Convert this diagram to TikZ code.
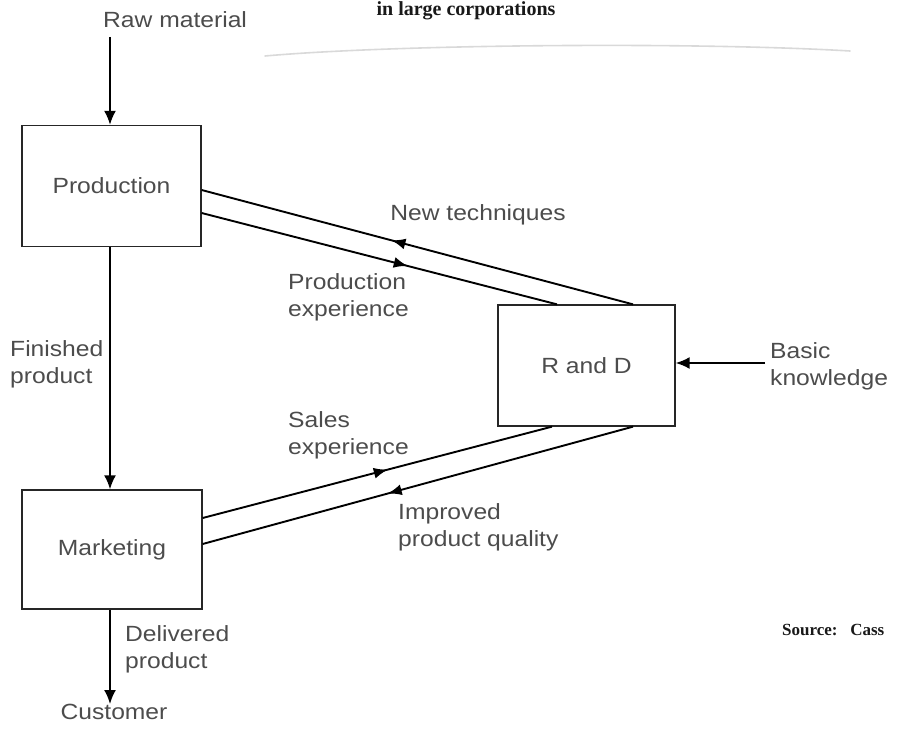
\documentclass[tikz,border=0pt]{standalone}
\usepackage{fontspec}
\setmainfont{Liberation Sans}[FakeStretch=1.12]
\newfontfamily\serifbold{Liberation Serif}[FakeStretch=1.0]
\usetikzlibrary{arrows.meta,decorations.markings}
\tikzset{
  box/.style={draw=black!85, line width=1.3pt, minimum width=179pt, minimum height=121pt, inner sep=0pt, text=black!70, font=\fontsize{22}{27}\selectfont},
  conn/.style={draw=black, line width=1.9pt},
  endtip/.style={-{Latex[length=14pt,width=12pt]}},
  lbl/.style={text=black!70, font=\fontsize{22}{27}\selectfont, inner sep=0pt, align=left},
  midtip/.style={postaction={decorate, decoration={markings, mark=at position #1 with {\arrow{Latex[length=14pt,width=11pt]}}}}},
  srcfont/.style={font=\serifbold\bfseries\fontsize{17}{20}\selectfont, text=black!90, inner sep=0pt},
}
\begin{document}
\begin{tikzpicture}[x=1pt,y=-1pt]
\useasboundingbox (0,0) rectangle (897,733);
% title and scan smudge
\node[srcfont, font=\serifbold\bfseries\fontsize{20}{24}\selectfont, anchor=base] (title) at (466,16) {in large corporations};
\draw[black!15, line width=1.6pt, line cap=round] (265,56) .. controls (400,44) and (700,42) .. (850,51);
% boxes
\node[box] (prod) at (111.5,186) {Production};
\node[box, minimum width=180pt, minimum height=119pt] (mkt) at (112,549.5) {Marketing};
\node[box, minimum width=177pt] (rd) at (586.5,365.5) {R and D};
% free ends
\node[lbl, anchor=base west] (raw) at (103,28) {Raw material};
\coordinate (rawend) at (110,37);
\node[lbl, anchor=west] (basic) at (770,366) {Basic\\knowledge};
\coordinate (basicend) at (765,363);
\node[lbl, anchor=north] (cust) at (114,704) {Customer};
% vertical flows
\draw[conn, endtip] (rawend) -- (prod.north -| rawend);
\draw[conn, endtip] (prod.south -| rawend) -- (mkt.north -| rawend);
\draw[conn, endtip] (mkt.south -| rawend) -- (cust.north -| rawend);
\draw[conn, endtip] (basicend) -- (rd.east |- basicend);
% slanted flows
\draw[conn, midtip=0.56] ([xshift=46.5pt]rd.north) -- ([yshift=-4pt]prod.east);
\draw[conn, midtip=0.58] ([yshift=-27pt]prod.east) -- ([xshift=-29.5pt]rd.north);
\draw[conn, midtip=0.53] ([yshift=31.5pt]mkt.east) -- ([xshift=-34.5pt]rd.south);
\draw[conn, midtip=0.57] ([xshift=46.5pt]rd.south) -- ([yshift=5.5pt]mkt.east);
% labels
\node[lbl] (newtech) at (478,215) {New techniques};
\node[lbl, anchor=west] (prodexp) at (288,297) {Production\\experience};
\node[lbl, anchor=west] (finished) at (10,364) {Finished\\product};
\node[lbl, anchor=west] (salesexp) at (288,435) {Sales\\experience};
\node[lbl, anchor=west] (improved) at (398,527) {Improved\\product quality};
\node[lbl, anchor=west] (delivered) at (125,649) {Delivered\\product};
\node[srcfont, anchor=base west] (source) at (782,635) {Source:\ \ \ Cass};
\end{tikzpicture}
\end{document}
